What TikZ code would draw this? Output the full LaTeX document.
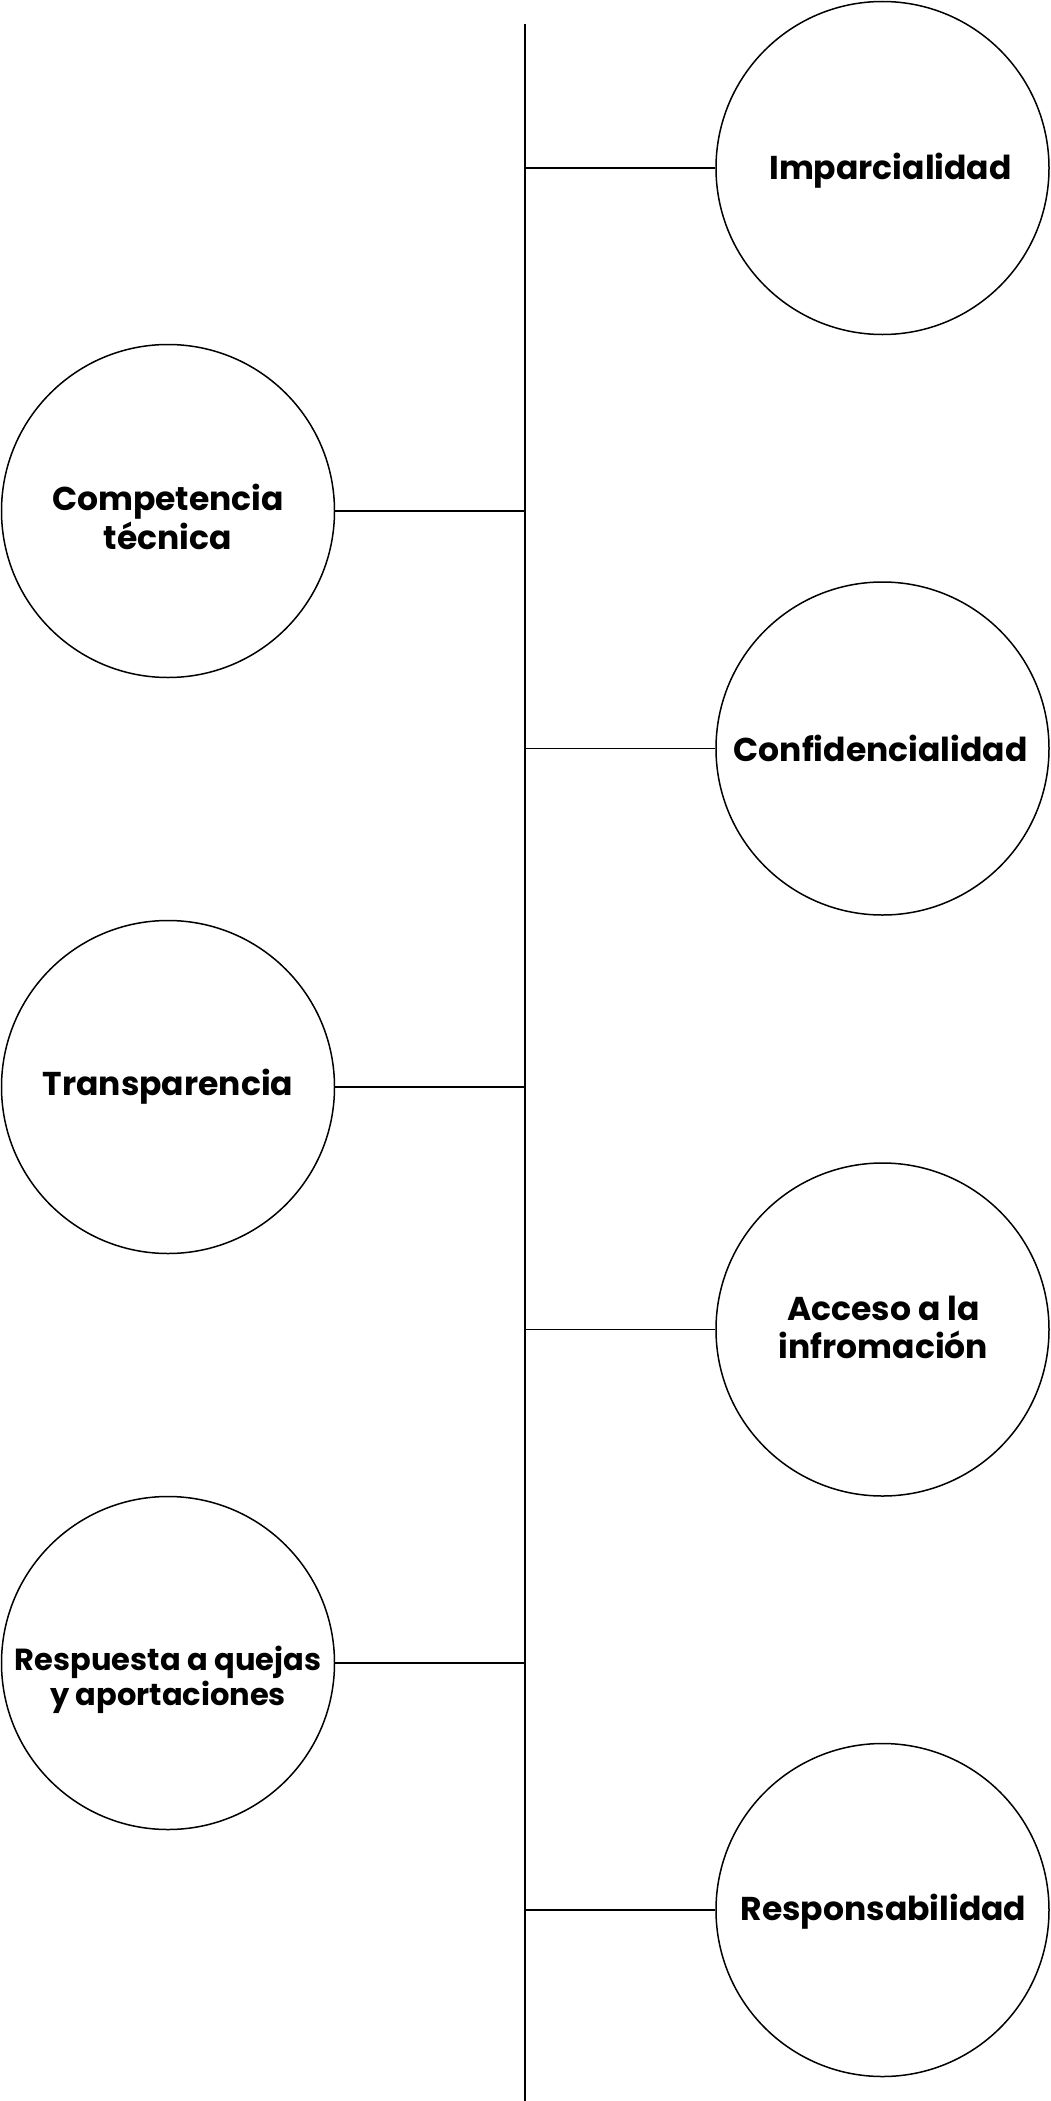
\documentclass[tikz,border=0pt]{standalone}
\usepackage{fontspec}
\setmainfont{Poppins}
\begin{document}
\begin{tikzpicture}[x=1pt,y=-1pt,
  bub/.style={circle,draw=black,line width=1.5pt,minimum size=333pt,inner sep=0pt},
  txt/.style={align=center,inner sep=0pt,font=\bfseries\fontsize{33}{39}\selectfont},
  conn/.style={draw=black,line width=1.5pt}]
\useasboundingbox[fill=white] (0,0) rectangle (1051,2101);
\coordinate (top) at (525,24);
\coordinate (bot) at (525,2101);
\draw[conn] (top) -- (bot);
\node[bub] (imp) at (882.5,168) {};
\node[bub] (comp) at (168,511) {};
\node[bub] (conf) at (882.5,748.5) {};
\node[bub] (trans) at (168,1087) {};
\node[bub] (acc) at (882.5,1329.5) {};
\node[bub] (resp) at (168,1663) {};
\node[bub] (respo) at (882.5,1910) {};
\node[txt,yshift=-3,xshift=8] (timp) at (imp) {Imparcialidad};
\node[txt,yshift=-6] (tcomp) at (comp) {Competencia\\técnica};
\node[txt,xshift=-2] (tconf) at (conf) {Confidencialidad};
\node[txt] (ttrans) at (trans) {Transparencia};
\node[txt,font=\bfseries\fontsize{33}{38}\selectfont,yshift=2,xshift=1] (tacc) at (acc) {Acceso a la\\infromación};
\node[txt,font=\bfseries\fontsize{30.5}{35}\selectfont,yshift=-17] (tresp) at (resp) {Respuesta a quejas\\y aportaciones};
\node[txt,yshift=-2,xshift=1] (trespo) at (respo) {Responsabilidad};
\foreach \n in {imp,comp,conf,trans,acc,resp,respo}{
  \draw[conn] (\n) -- (top |- \n);
}
\end{tikzpicture}
\end{document}
